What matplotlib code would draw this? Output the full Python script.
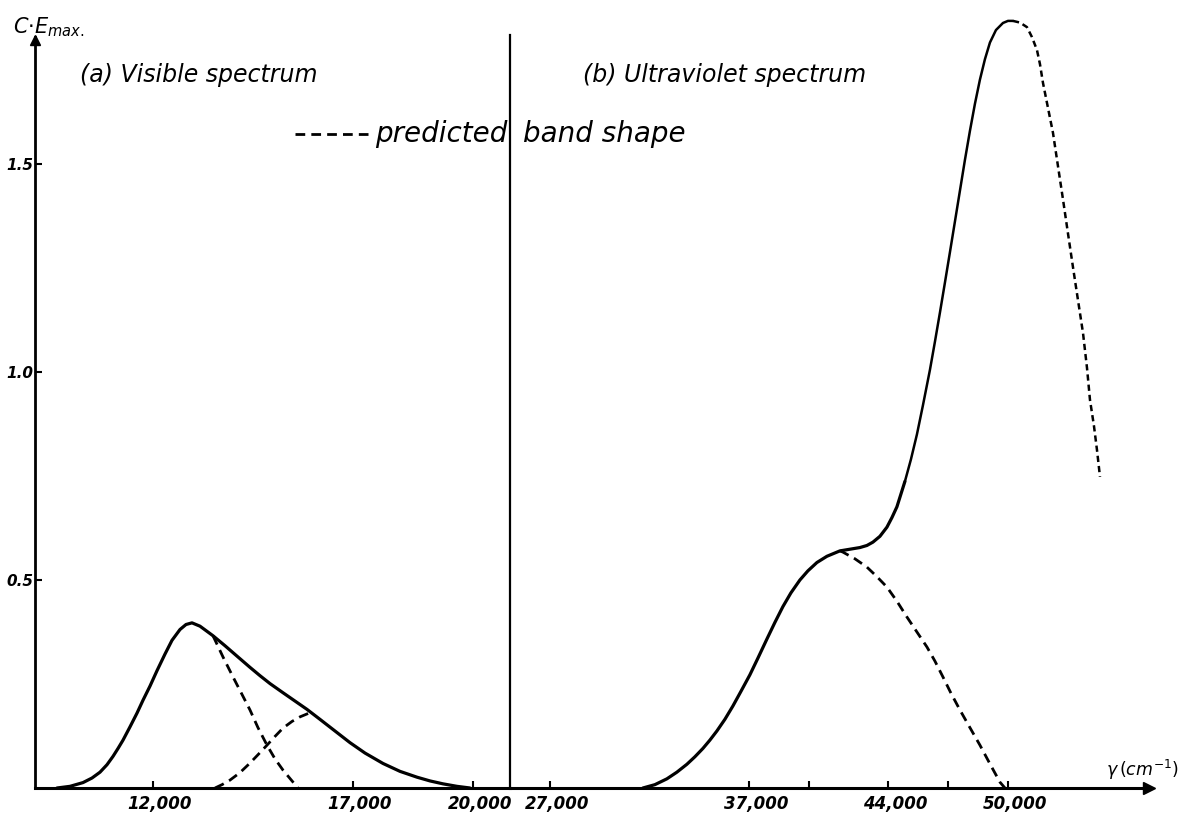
import matplotlib
matplotlib.use('Agg')
import matplotlib.pyplot as plt
from matplotlib.lines import Line2D
from matplotlib.transforms import ScaledTranslation

W, H = 1184, 816

# visible spectrum, wavenumber (cm-1) vs C*E_max
vis_x = [9600, 9925, 10250, 10475, 10675, 10850, 11000, 11125, 11250, 11425, 11600, 11750,
         11925, 12100, 12300, 12475, 12675, 12825, 12975, 13175, 13500, 13800, 14100, 14425,
         14675, 14925, 15250, 15550, 15850, 16175, 16550, 16925, 17300, 17750, 18175, 18600,
         18925, 19250, 19600, 19925]
vis_y = [0.0, 0.004, 0.013, 0.024, 0.038, 0.056, 0.076, 0.095, 0.115, 0.147, 0.180, 0.211,
         0.245, 0.282, 0.322, 0.355, 0.381, 0.393, 0.397, 0.389, 0.366, 0.342, 0.317, 0.290,
         0.270, 0.251, 0.229, 0.209, 0.189, 0.165, 0.137, 0.109, 0.084, 0.059, 0.040, 0.026,
         0.017, 0.010, 0.004, 0.0]
# predicted components of the visible band
vis_c1_x = [13500, 13750, 14000, 14225, 14425, 14625, 14850, 15050, 15250, 15450, 15625]
vis_c1_y = [0.366, 0.315, 0.267, 0.225, 0.1875, 0.145, 0.103, 0.070, 0.043, 0.020, 0.0]
vis_c2_x = [13550, 13725, 13925, 14175, 14425, 14625, 14850, 15050, 15250, 15475, 15675, 15800, 15900]
vis_c2_y = [0.0, 0.008, 0.019, 0.037, 0.060, 0.080, 0.103, 0.124, 0.144, 0.160, 0.171, 0.176, 0.180]

# ultraviolet spectrum
uv_low_x = [31674, 32277, 32880, 33382, 33885, 34287, 34689, 35040, 35392, 35794, 36196,
            36598, 37050, 37452, 37905, 38307, 38709, 39111, 39563, 39965, 40417, 40920,
            41422, 41573, 42075, 42578, 42930, 43231, 43583, 43935, 44186, 44437, 44839]
uv_low_y = [0.0, 0.008, 0.022, 0.038, 0.057, 0.075, 0.095, 0.115, 0.137, 0.165, 0.197,
            0.232, 0.272, 0.312, 0.358, 0.398, 0.436, 0.469, 0.500, 0.522, 0.542, 0.557,
            0.567, 0.570, 0.574, 0.578, 0.583, 0.591, 0.605, 0.627, 0.650, 0.676, 0.737]
uv_high_x = [44839, 45141, 45442, 45744, 46095, 46347, 46598, 46849, 47100, 47352, 47603,
             47854, 48106, 48357, 48608, 48859, 49110, 49412, 49764, 50015, 50266]
uv_high_y = [0.737, 0.790, 0.850, 0.920, 1.005, 1.073, 1.143, 1.215, 1.288, 1.362, 1.436,
             1.510, 1.580, 1.645, 1.703, 1.752, 1.792, 1.822, 1.839, 1.844, 1.844]
uv_fall_x = [50266, 50618, 50970, 51221, 51472, 51623, 51774, 52025, 52276, 52527, 52779,
             53030, 53281, 53532, 53784, 53985, 54135, 54336, 54487, 54638]
uv_fall_y = [1.844, 1.840, 1.829, 1.805, 1.774, 1.740, 1.695, 1.635, 1.575, 1.495, 1.415,
             1.333, 1.252, 1.173, 1.094, 1.010, 0.933, 0.870, 0.8125, 0.748]
uv_c1_x = [41573, 41724, 42327, 42930, 43432, 43935, 44437, 44940, 45442, 45945, 46347,
           46749, 47151, 47603, 48106, 48608, 49110, 49613, 49864]
uv_c1_y = [0.570, 0.567, 0.551, 0.531, 0.508, 0.483, 0.449, 0.411, 0.375, 0.339, 0.305,
           0.267, 0.228, 0.1875, 0.145, 0.103, 0.058, 0.014, 0.0]

vis_ticks = [12000, 17000, 20000]
vis_labels = ['12,000', '17,000', '20,000']
uv_ticks = [27000, 37000, 40000, 44000, 47000, 50000]
uv_labels = ['27,000', '37,000', '', '44,000', '', '50,000']
y_ticks = [0.5, 1.0, 1.5]
y_labels = ['0.5', '1.0', '1.5']

fig = plt.figure(figsize=(W / 100, H / 100), dpi=100)
bottom = 28 / H
height = (788 - 10) / H
ax1 = fig.add_axes([35 / W, bottom, (510 - 35) / W, height])
ax2 = fig.add_axes([510 / W, bottom, (1149 - 510) / W, height])
ytop = (788 - 10) / 416

ax1.set_xlim(9050, 20925)
ax2.set_xlim(25000, 57100)
for ax in (ax1, ax2):
    ax.set_ylim(0, ytop)
    ax.set_facecolor('none')
    ax.spines['top'].set_visible(False)
    ax.spines['right'].set_visible(False)
    ax.spines['bottom'].set_linewidth(2.2)

k = dict(color='black', clip_on=False, solid_capstyle='round', solid_joinstyle='round')
ax1.plot(vis_x, vis_y, lw=2.3, **k)
ax1.plot(vis_c1_x, vis_c1_y, lw=2.0, dashes=(3.5, 2.2), **k)
ax1.plot(vis_c2_x, vis_c2_y, lw=2.0, dashes=(3.5, 2.2), **k)
ax2.plot(uv_low_x, uv_low_y, lw=2.3, **k)
ax2.plot(uv_high_x, uv_high_y, lw=1.8, **k)
ax2.plot(uv_fall_x, uv_fall_y, lw=1.8, dashes=(2.5, 1.6), **k)
ax2.plot(uv_c1_x, uv_c1_y, lw=2.0, dashes=(3.5, 2.2), **k)

# axes lines with arrow heads
ax1.spines['left'].set_linewidth(2.0)
ax1.spines['left'].set_bounds(0, (788 - 37) / 416)
ax1.plot([9050], [(788 - 40) / 416], marker='^', ms=7, color='black', clip_on=False)
ax2.spines['left'].set_linewidth(1.6)
ax2.spines['left'].set_bounds(0, (788 - 35) / 416)
ax2.plot([57100], [0], marker='>', ms=8, color='black', clip_on=False)

tick_font = dict(fontsize=12, fontweight='bold', fontstyle='italic')
ax1.set_xticks(vis_ticks)
ax1.set_xticklabels(vis_labels, **tick_font)
ax2.set_xticks(uv_ticks)
ax2.set_xticklabels(uv_labels, **tick_font)
ax2.set_yticks([])
ax1.set_yticks(y_ticks)
ax1.set_yticklabels(y_labels, fontsize=11, fontweight='bold', fontstyle='italic')
for ax in (ax1, ax2):
    ax.tick_params(axis='x', direction='in', length=5, width=1.5, pad=5)
ax1.tick_params(axis='y', direction='in', length=5, width=1.5, pad=1)

shift = ScaledTranslation(7 / 100, 0, fig.dpi_scale_trans)
for ax in (ax1, ax2):
    for lbl in ax.get_xticklabels():
        lbl.set_transform(lbl.get_transform() + shift)


def ftext(x, y, s, **kw):
    return fig.text(x / W, 1 - y / H, s, **kw)


ftext(13, 33, r'$C{\cdot}E_{max.}$', fontsize=15, ha='left', va='baseline')
ftext(1106, 776, r'$\gamma\,(cm^{-1})$', fontsize=12.5, ha='left', va='baseline')
ftext(80, 82, '(a) Visible spectrum', fontsize=17, fontstyle='italic', ha='left', va='baseline')
ftext(583, 82, '(b) Ultraviolet spectrum', fontsize=17, fontstyle='italic', ha='left', va='baseline')
ftext(507, 142, 'predicted', fontsize=20, fontstyle='italic', ha='right', va='baseline')
ftext(523, 142, 'band shape', fontsize=20, fontstyle='italic', ha='left', va='baseline')
fig.add_artist(Line2D([295 / W, 368 / W], [1 - 134 / H, 1 - 134 / H], color='black',
                      lw=2.0, dashes=(3.5, 2.2)))

fig.savefig('out.png', dpi=100)
